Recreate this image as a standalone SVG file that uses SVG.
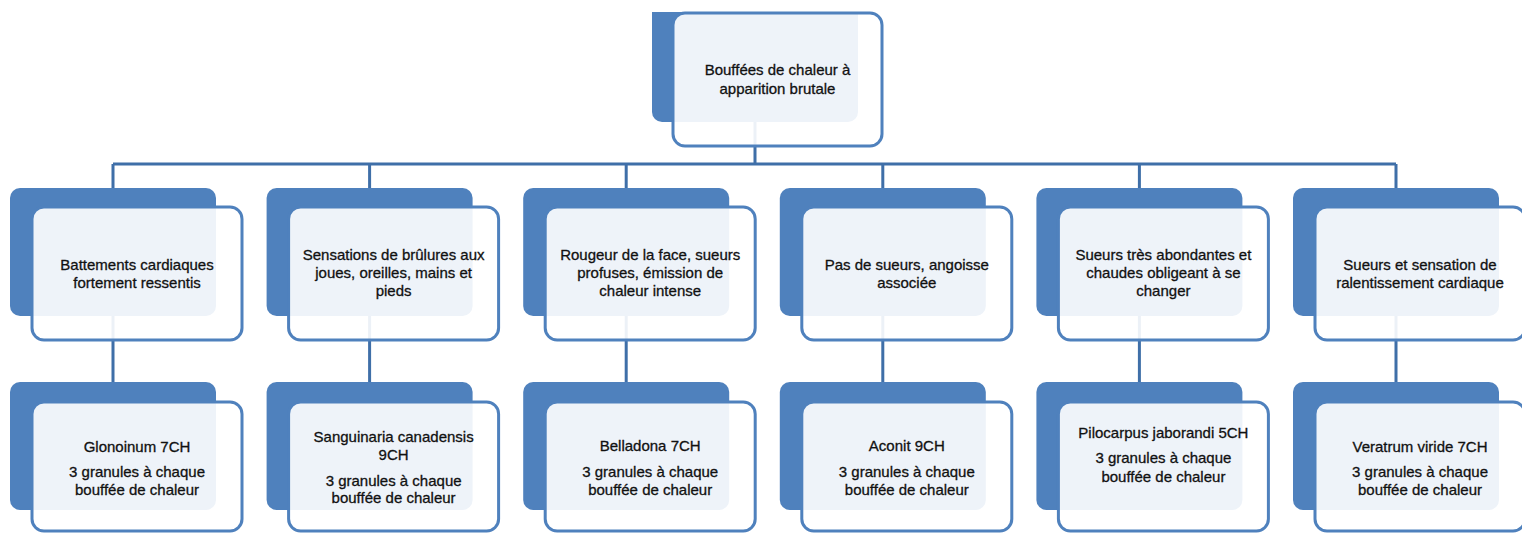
<svg xmlns="http://www.w3.org/2000/svg" width="1522" height="533" viewBox="0 0 1522 533">
<style>
.back{fill:#4F81BD}
.front{fill:#ffffff;fill-opacity:0.9;stroke:#4F81BD;stroke-width:3}
.conn{stroke:#3F6FA8;stroke-width:3;fill:none}
text{font-family:"Liberation Sans",Arial,sans-serif;font-size:15px;fill:#111;stroke:#111;stroke-width:0.3;text-anchor:middle}
</style>
<rect width="1522" height="533" fill="#ffffff"/>
<g id="connectors">
<path class="conn" d="M755 122V164M113 164H1396"/>
<path class="conn" d="M113 164V188M369.6 164V188M626.2 164V188M882.8 164V188M1139.4 164V188M1396 164V188"/>
<path class="conn" d="M113 316V382M369.6 316V382M626.2 316V382M882.8 316V382M1139.4 316V382M1396 316V382"/>
</g>
<g id="root">
<path class="back" d="M652 12H858V112A10 10 0 0 1 848 122H662A10 10 0 0 1 652 112Z"/>
<rect class="front" x="673" y="13" width="209" height="133" rx="12"/>
<text x="777.5" y="75">Bouffées de chaleur à</text>
<text x="777.5" y="94">apparition brutale</text>
</g>
<g id="s1">
<rect class="back" x="10" y="188" width="206" height="128" rx="10"/>
<rect class="front" x="32" y="207" width="210" height="133" rx="12"/>
<text x="137" y="270">Battements cardiaques</text>
<text x="137" y="288">fortement ressentis</text>
</g>
<g id="s2">
<rect class="back" x="266.6" y="188" width="206" height="128" rx="10"/>
<rect class="front" x="288.6" y="207" width="210" height="133" rx="12"/>
<text x="393.6" y="260">Sensations de brûlures aux</text>
<text x="393.6" y="278">joues, oreilles, mains et</text>
<text x="393.6" y="296">pieds</text>
</g>
<g id="s3">
<rect class="back" x="523.2" y="188" width="206" height="128" rx="10"/>
<rect class="front" x="545.2" y="207" width="210" height="133" rx="12"/>
<text x="650.2" y="260">Rougeur de la face, sueurs</text>
<text x="650.2" y="278">profuses, émission de</text>
<text x="650.2" y="296">chaleur intense</text>
</g>
<g id="s4">
<rect class="back" x="779.8" y="188" width="206" height="128" rx="10"/>
<rect class="front" x="801.8" y="207" width="210" height="133" rx="12"/>
<text x="906.8" y="270">Pas de sueurs, angoisse</text>
<text x="906.8" y="288">associée</text>
</g>
<g id="s5">
<rect class="back" x="1036.4" y="188" width="206" height="128" rx="10"/>
<rect class="front" x="1058.4" y="207" width="210" height="133" rx="12"/>
<text x="1163.4" y="260">Sueurs très abondantes et</text>
<text x="1163.4" y="278">chaudes obligeant à se</text>
<text x="1163.4" y="296">changer</text>
</g>
<g id="s6">
<rect class="back" x="1293" y="188" width="206" height="128" rx="10"/>
<rect class="front" x="1315" y="207" width="210" height="133" rx="12"/>
<text x="1420" y="270">Sueurs et sensation de</text>
<text x="1420" y="288">ralentissement cardiaque</text>
</g>
<g id="r1">
<rect class="back" x="10" y="382" width="206" height="128" rx="10"/>
<rect class="front" x="32" y="402" width="210" height="129" rx="12"/>
<text x="137" y="452">Glonoinum 7CH</text>
<text x="137" y="477">3 granules à chaque</text>
<text x="137" y="495">bouffée de chaleur</text>
</g>
<g id="r2">
<rect class="back" x="266.6" y="382" width="206" height="128" rx="10"/>
<rect class="front" x="288.6" y="402" width="210" height="129" rx="12"/>
<text x="393.6" y="442">Sanguinaria canadensis</text>
<text x="393.6" y="460">9CH</text>
<text x="393.6" y="486">3 granules à chaque</text>
<text x="393.6" y="503">bouffée de chaleur</text>
</g>
<g id="r3">
<rect class="back" x="523.2" y="382" width="206" height="128" rx="10"/>
<rect class="front" x="545.2" y="402" width="210" height="129" rx="12"/>
<text x="650.2" y="451">Belladona 7CH</text>
<text x="650.2" y="477">3 granules à chaque</text>
<text x="650.2" y="495">bouffée de chaleur</text>
</g>
<g id="r4">
<rect class="back" x="779.8" y="382" width="206" height="128" rx="10"/>
<rect class="front" x="801.8" y="402" width="210" height="129" rx="12"/>
<text x="906.8" y="451">Aconit 9CH</text>
<text x="906.8" y="477">3 granules à chaque</text>
<text x="906.8" y="495">bouffée de chaleur</text>
</g>
<g id="r5">
<rect class="back" x="1036.4" y="382" width="206" height="128" rx="10"/>
<rect class="front" x="1058.4" y="402" width="210" height="129" rx="12"/>
<text x="1163.4" y="438">Pilocarpus jaborandi 5CH</text>
<text x="1163.4" y="463">3 granules à chaque</text>
<text x="1163.4" y="482">bouffée de chaleur</text>
</g>
<g id="r6">
<rect class="back" x="1293" y="382" width="206" height="128" rx="10"/>
<rect class="front" x="1315" y="402" width="210" height="129" rx="12"/>
<text x="1420" y="452">Veratrum viride 7CH</text>
<text x="1420" y="477">3 granules à chaque</text>
<text x="1420" y="495">bouffée de chaleur</text>
</g>
</svg>
